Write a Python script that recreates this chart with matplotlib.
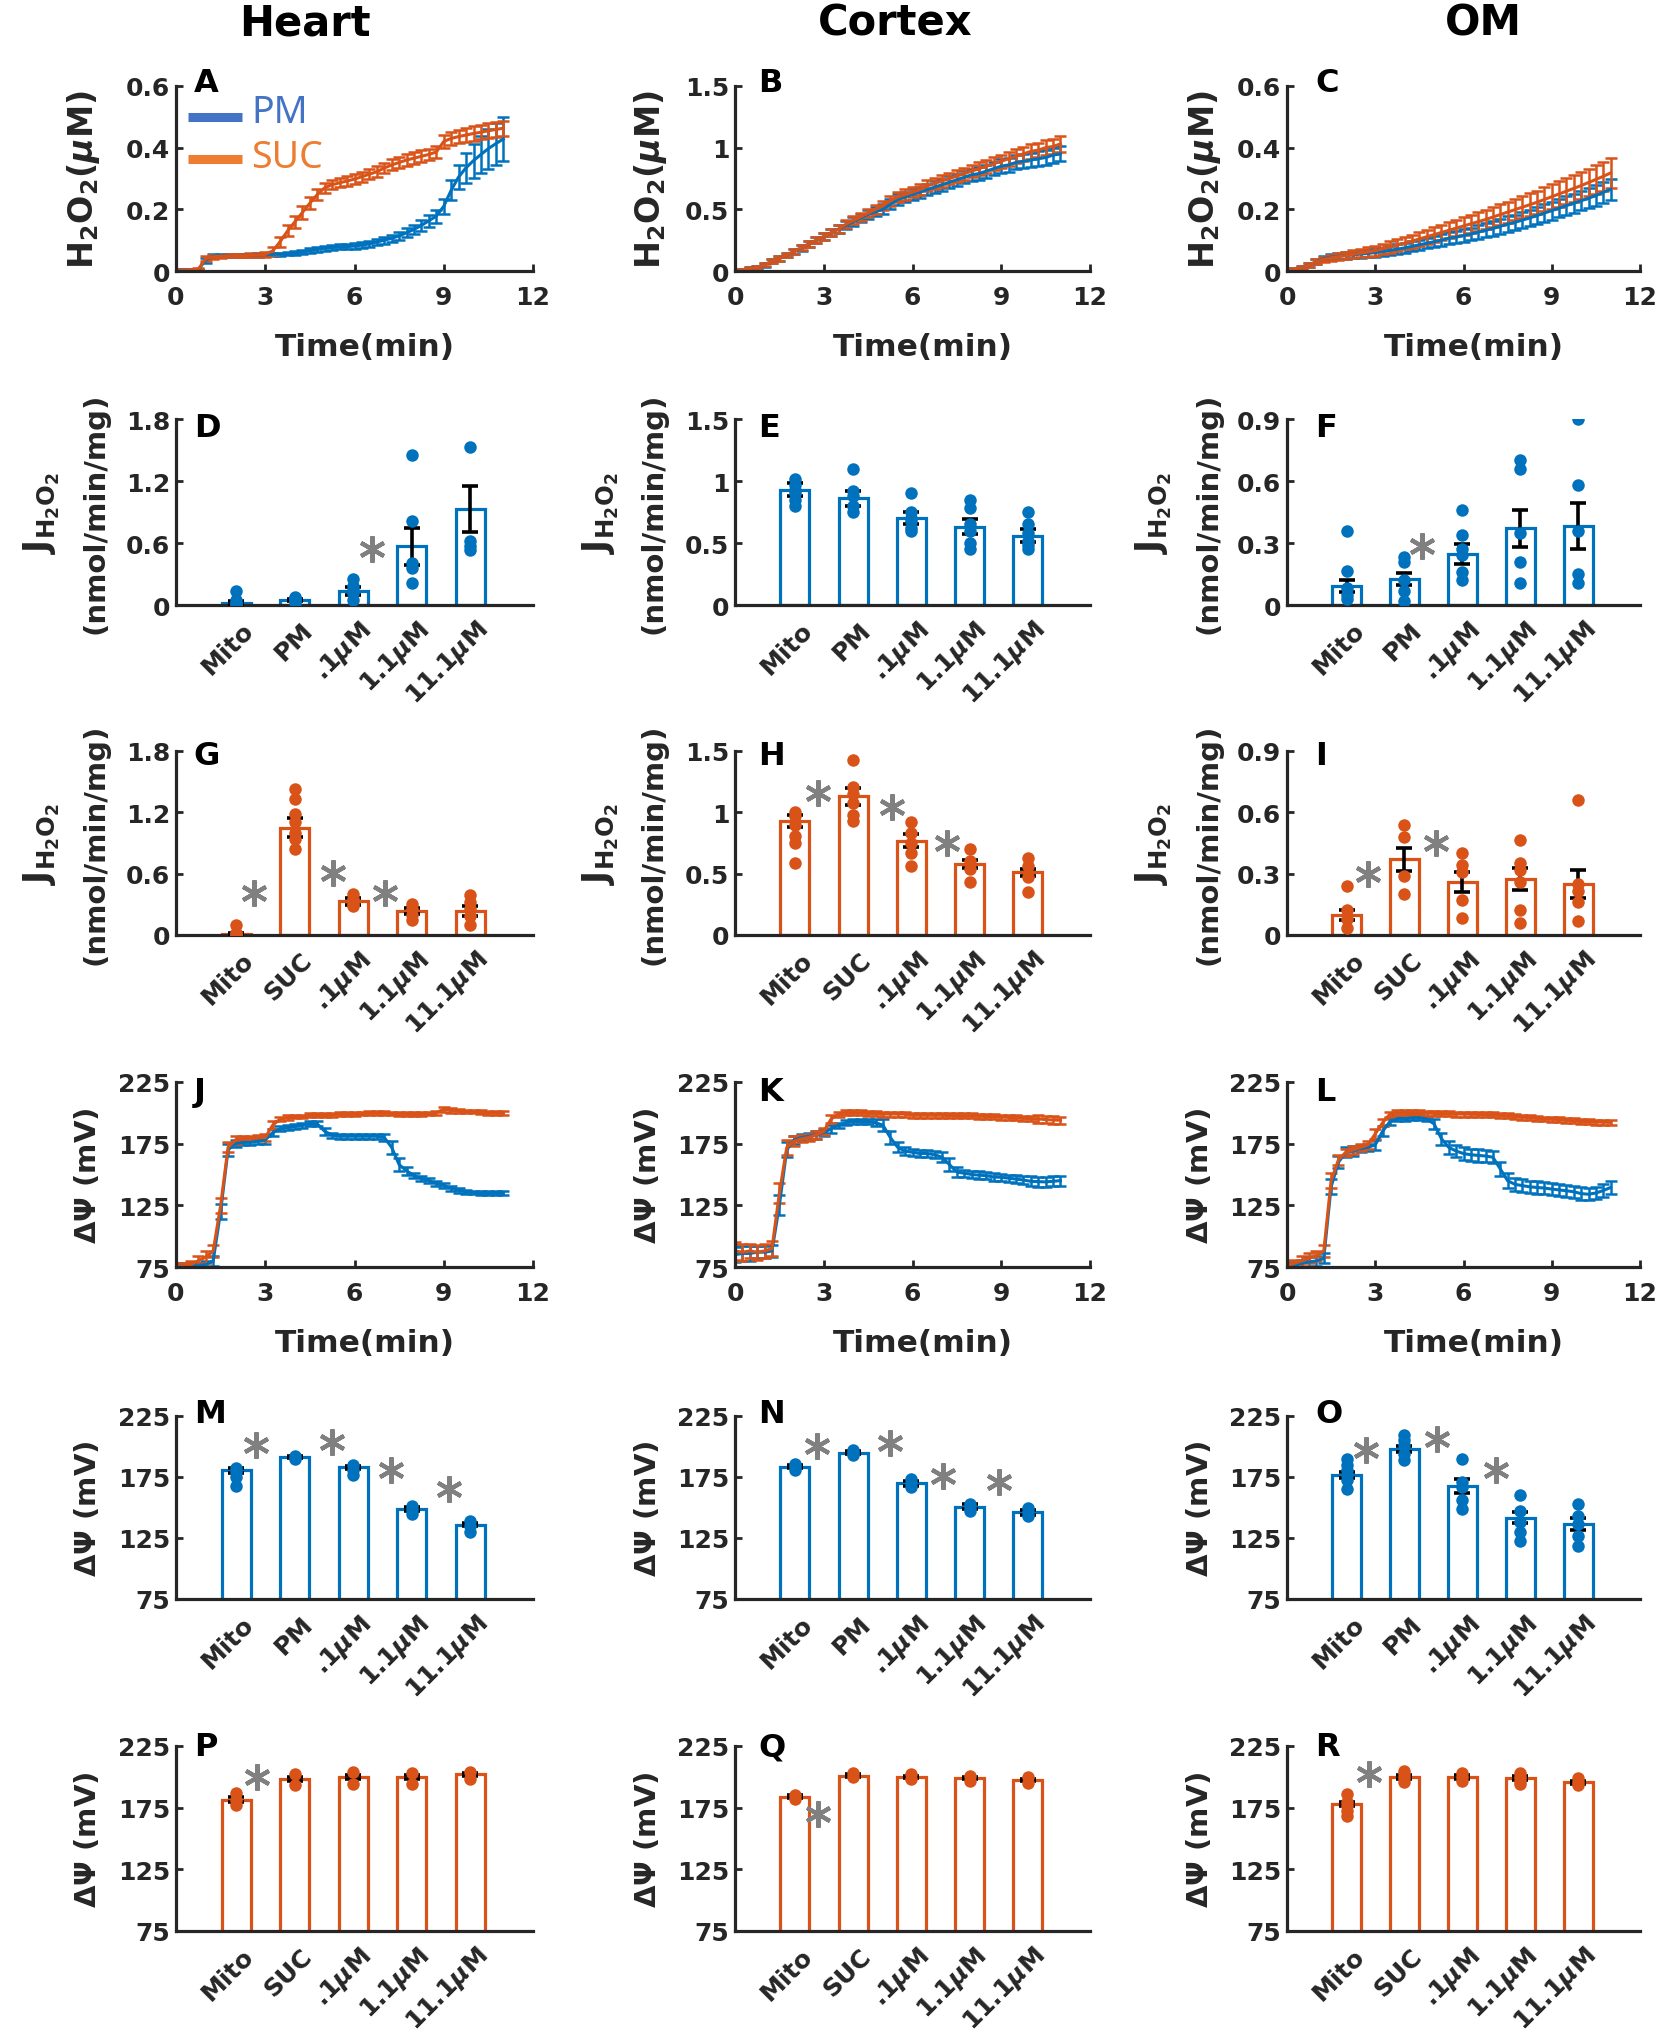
import numpy as np
import matplotlib
matplotlib.use("Agg")
import matplotlib.pyplot as plt
from matplotlib.transforms import ScaledTranslation

# ---------------------------------------------------------------- data
# time courses, one value every 0.25 min from 0 to 11 min (one line per minute)
time_min = np.arange(0, 11.01, 0.25)

heart_h2o2_pm = [0.004, 0.004, 0.004, 0.005,
                 0.035, 0.048, 0.050, 0.050,
                 0.050, 0.051, 0.051, 0.052,
                 0.053, 0.054, 0.055, 0.056,
                 0.058, 0.062, 0.066, 0.070,
                 0.074, 0.076, 0.078, 0.079,
                 0.081, 0.084, 0.088, 0.094,
                 0.100, 0.106, 0.114, 0.124,
                 0.135, 0.148, 0.163, 0.178,
                 0.210, 0.262, 0.305, 0.335,
                 0.358, 0.378, 0.397, 0.413,
                 0.428]
heart_h2o2_pm_err = [0.003, 0.003, 0.003, 0.003,
                     0.008, 0.006, 0.005, 0.005,
                     0.005, 0.005, 0.005, 0.005,
                     0.005, 0.005, 0.005, 0.005,
                     0.006, 0.006, 0.007, 0.007,
                     0.008, 0.008, 0.008, 0.008,
                     0.009, 0.009, 0.010, 0.010,
                     0.011, 0.012, 0.013, 0.014,
                     0.015, 0.017, 0.019, 0.021,
                     0.024, 0.032, 0.040, 0.048,
                     0.055, 0.060, 0.065, 0.068,
                     0.070]
heart_h2o2_suc = [0.003, 0.003, 0.004, 0.006,
                  0.040, 0.046, 0.048, 0.049,
                  0.050, 0.050, 0.051, 0.052,
                  0.054, 0.065, 0.095, 0.130,
                  0.160, 0.190, 0.220, 0.248,
                  0.270, 0.280, 0.286, 0.292,
                  0.298, 0.306, 0.314, 0.322,
                  0.334, 0.344, 0.352, 0.360,
                  0.366, 0.372, 0.378, 0.386,
                  0.420, 0.430, 0.436, 0.441,
                  0.446, 0.450, 0.455, 0.459,
                  0.463]
heart_h2o2_suc_err = [0.003, 0.003, 0.003, 0.004,
                      0.008, 0.006, 0.005, 0.005,
                      0.005, 0.005, 0.006, 0.006,
                      0.008, 0.012, 0.016, 0.018,
                      0.020, 0.020, 0.020, 0.018,
                      0.016, 0.015, 0.015, 0.015,
                      0.016, 0.016, 0.016, 0.017,
                      0.017, 0.018, 0.018, 0.018,
                      0.019, 0.019, 0.019, 0.020,
                      0.020, 0.021, 0.022, 0.022,
                      0.023, 0.023, 0.024, 0.024,
                      0.025]

cortex_h2o2_pm = [0.00, 0.01, 0.02, 0.03,
                  0.05, 0.08, 0.10, 0.13,
                  0.16, 0.19, 0.22, 0.25,
                  0.28, 0.31, 0.34, 0.37,
                  0.40, 0.43, 0.46, 0.48,
                  0.50, 0.54, 0.58, 0.60,
                  0.62, 0.64, 0.66, 0.68,
                  0.70, 0.72, 0.74, 0.76,
                  0.78, 0.79, 0.81, 0.83,
                  0.85, 0.86, 0.88, 0.89,
                  0.90, 0.91, 0.92, 0.94,
                  0.95]
cortex_h2o2_pm_err = [0.005, 0.008, 0.010, 0.012,
                      0.015, 0.018, 0.020, 0.020,
                      0.022, 0.024, 0.025, 0.026,
                      0.028, 0.030, 0.030, 0.032,
                      0.034, 0.035, 0.036, 0.038,
                      0.040, 0.040, 0.042, 0.042,
                      0.044, 0.045, 0.046, 0.047,
                      0.048, 0.049, 0.050, 0.050,
                      0.051, 0.052, 0.053, 0.054,
                      0.055, 0.056, 0.057, 0.058,
                      0.059, 0.060, 0.060, 0.061,
                      0.062]
cortex_h2o2_suc = [0.00, 0.01, 0.02, 0.03,
                   0.05, 0.08, 0.10, 0.13,
                   0.16, 0.19, 0.22, 0.25,
                   0.28, 0.31, 0.34, 0.38,
                   0.41, 0.44, 0.47, 0.50,
                   0.53, 0.57, 0.60, 0.62,
                   0.64, 0.66, 0.69, 0.71,
                   0.73, 0.75, 0.77, 0.79,
                   0.81, 0.83, 0.85, 0.87,
                   0.89, 0.91, 0.93, 0.95,
                   0.97, 0.98, 1.00, 1.01,
                   1.03]
cortex_h2o2_suc_err = [0.005, 0.007, 0.009, 0.011,
                       0.013, 0.016, 0.018, 0.020,
                       0.021, 0.022, 0.023, 0.025,
                       0.026, 0.027, 0.029, 0.030,
                       0.032, 0.033, 0.035, 0.036,
                       0.038, 0.039, 0.040, 0.041,
                       0.042, 0.043, 0.044, 0.045,
                       0.046, 0.047, 0.048, 0.049,
                       0.050, 0.051, 0.052, 0.053,
                       0.054, 0.055, 0.056, 0.057,
                       0.058, 0.059, 0.060, 0.061,
                       0.062]

om_h2o2_pm = [0.000, 0.005, 0.010, 0.020,
              0.030, 0.040, 0.045, 0.048,
              0.050, 0.052, 0.055, 0.057,
              0.060, 0.063, 0.067, 0.071,
              0.075, 0.080, 0.085, 0.090,
              0.095, 0.100, 0.106, 0.110,
              0.115, 0.120, 0.126, 0.132,
              0.138, 0.145, 0.152, 0.158,
              0.165, 0.172, 0.180, 0.188,
              0.196, 0.204, 0.212, 0.220,
              0.228, 0.236, 0.245, 0.255,
              0.265]
om_h2o2_pm_err = [0.003, 0.004, 0.005, 0.006,
                  0.008, 0.009, 0.010, 0.010,
                  0.011, 0.011, 0.012, 0.012,
                  0.013, 0.013, 0.014, 0.015,
                  0.015, 0.016, 0.017, 0.017,
                  0.018, 0.019, 0.019, 0.020,
                  0.021, 0.021, 0.022, 0.023,
                  0.023, 0.024, 0.025, 0.025,
                  0.026, 0.027, 0.027, 0.028,
                  0.029, 0.029, 0.030, 0.031,
                  0.031, 0.032, 0.033, 0.033,
                  0.034]
om_h2o2_suc = [0.000, 0.005, 0.010, 0.020,
               0.030, 0.038, 0.043, 0.047,
               0.050, 0.054, 0.058, 0.062,
               0.066, 0.072, 0.078, 0.084,
               0.090, 0.097, 0.104, 0.111,
               0.118, 0.125, 0.132, 0.139,
               0.146, 0.153, 0.160, 0.167,
               0.175, 0.183, 0.191, 0.199,
               0.207, 0.215, 0.223, 0.232,
               0.241, 0.250, 0.259, 0.268,
               0.277, 0.287, 0.297, 0.307,
               0.318]
om_h2o2_suc_err = [0.003, 0.004, 0.005, 0.006,
                   0.008, 0.009, 0.010, 0.011,
                   0.012, 0.013, 0.014, 0.015,
                   0.016, 0.017, 0.018, 0.019,
                   0.020, 0.021, 0.022, 0.023,
                   0.024, 0.025, 0.026, 0.027,
                   0.028, 0.029, 0.030, 0.031,
                   0.032, 0.033, 0.034, 0.035,
                   0.036, 0.037, 0.038, 0.039,
                   0.040, 0.041, 0.042, 0.043,
                   0.044, 0.045, 0.046, 0.047,
                   0.048]

heart_dpsi_pm = [76, 76, 76, 76,
                 77, 80, 120, 170,
                 175, 176, 176, 177,
                 178, 184, 187, 188,
                 189, 190, 191, 191,
                 185, 182, 181, 181,
                 181, 181, 181, 181,
                 180, 172, 158, 153,
                 149, 147, 145, 143,
                 141, 139, 137, 136,
                 135.5, 135, 135, 135,
                 135]
heart_dpsi_pm_err = [2, 2, 2, 2,
                     3, 4, 6, 5,
                     3, 2, 2, 2,
                     3, 3, 2, 2,
                     2, 2, 2, 2,
                     3, 2, 2, 2,
                     2, 2, 2, 2,
                     3, 5, 5, 3,
                     2, 2, 2, 2,
                     2, 2, 2, 1.5,
                     1.5, 1.5, 1.5, 1.5,
                     1.5]
heart_dpsi_suc = [76, 76, 77, 80,
                  83, 88, 125, 172,
                  178, 179, 179, 180,
                  180, 190, 195, 196,
                  197, 197, 198, 198,
                  198, 198.5, 199, 199,
                  199, 199.5, 200, 200,
                  200, 199.5, 199, 199,
                  199, 199, 199.5, 200,
                  203, 202, 201.5, 201,
                  201, 200.5, 200, 200,
                  200]
heart_dpsi_suc_err = [2, 2, 3, 4,
                      5, 5, 6, 4,
                      3, 2, 2, 2,
                      3, 3, 2, 2,
                      1.5, 1.5, 1.5, 1.5,
                      1.5, 1.5, 1.5, 1.5,
                      1.5, 1.5, 1.5, 1.5,
                      1.5, 1.5, 1.5, 1.5,
                      1.5, 1.5, 1.5, 1.5,
                      2, 2, 1.5, 1.5,
                      1.5, 1.5, 1.5, 1.5,
                      1.5]

cortex_dpsi_pm = [85, 86, 86, 87,
                  87, 88, 125, 170,
                  178, 180, 181, 182,
                  184, 187, 190, 192,
                  193, 193, 193, 192,
                  190, 180, 172, 169,
                  168, 167, 167, 166,
                  164, 158, 152, 151,
                  150, 149.5, 149, 148,
                  147.7, 147, 146.3, 145.5,
                  144.5, 144.2, 144, 144.5,
                  145]
cortex_dpsi_pm_err = [6, 6, 6, 5,
                      5, 5, 8, 6,
                      3, 3, 3, 3,
                      3, 3, 2, 2,
                      2, 2, 2, 3,
                      5, 5, 4, 3,
                      3, 3, 3, 3,
                      4, 5, 4, 3,
                      3, 3, 3, 3,
                      3, 3, 3, 3,
                      4, 4, 4, 4,
                      4]
cortex_dpsi_suc = [88, 87, 88, 87,
                   88, 90, 135, 172,
                   177, 179, 180, 182,
                   185, 195, 199, 200,
                   200, 200, 199.5, 199.5,
                   199, 199, 199, 199,
                   198, 198, 198, 198,
                   198, 197.8, 197.6, 197.5,
                   197.5, 197.2, 197, 196.8,
                   196.5, 196.3, 196, 195.6,
                   195.2, 195, 194.6, 194.2,
                   194]
cortex_dpsi_suc_err = [7, 7, 6, 6,
                       6, 6, 8, 6,
                       4, 3, 3, 3,
                       3, 3, 2, 2,
                       2, 2, 2, 2,
                       2, 2, 2, 2,
                       2, 2, 2, 2,
                       2, 2, 2, 2,
                       2, 2, 2, 2,
                       2, 2, 2, 2,
                       2, 3, 3, 3,
                       3]

om_dpsi_pm = [75, 76, 78, 79,
              80, 82, 140, 160,
              168, 169, 171, 172,
              174, 185, 193, 195,
              195, 196, 196, 195,
              191, 179, 172, 169,
              167, 166, 165.5, 165,
              164, 154.5, 145, 142,
              141, 140, 139.5, 139,
              138.2, 137.5, 136.8, 136,
              134.5, 134, 135, 137,
              139.5]
om_dpsi_pm_err = [2, 3, 3, 4,
                  4, 4, 6, 5,
                  4, 4, 3, 3,
                  4, 4, 3, 2,
                  2, 2, 2, 2,
                  4, 5, 5, 5,
                  5, 5, 5, 5,
                  5, 6, 6, 5,
                  5, 5, 5, 5,
                  5, 5, 5, 5,
                  5, 5, 5, 5,
                  5]
om_dpsi_suc = [76, 78, 80, 82,
               84, 88, 145, 162,
               168, 170, 172, 174,
               183, 192, 199, 200,
               200, 200, 200, 199.8,
               199.5, 199.3, 199.2, 199,
               199, 198.8, 198.7, 198.5,
               198.3, 198, 197.5, 197,
               196.5, 196, 195.5, 195,
               194.8, 194.5, 194, 193.5,
               193, 192.8, 192.5, 192.4,
               192.2]
om_dpsi_suc_err = [2, 3, 4, 4,
                   4, 5, 6, 4,
                   3, 3, 3, 3,
                   4, 3, 2, 2,
                   2, 2, 2, 2,
                   2, 2, 2, 2,
                   2, 2, 2, 2,
                   2, 2, 2, 2,
                   2, 2, 2, 2,
                   2, 2, 2, 2,
                   2, 2, 2, 2,
                   2]

# bar charts: five conditions each
labels_pm = ['Mito', 'PM', '.1$\\mu$M', '1.1$\\mu$M', '11.1$\\mu$M']
labels_suc = ['Mito', 'SUC', '.1$\\mu$M', '1.1$\\mu$M', '11.1$\\mu$M']

# J_H2O2, PM (D, E, F)
heart_j_pm_mean = [0.02, 0.05, 0.135, 0.57, 0.93]
heart_j_pm_sem = [0.02, 0.01, 0.035, 0.18, 0.22]
heart_j_pm_pts = [[0.14, 0.05, 0.02, 0.0, 0.01], [0.08, 0.07, 0.06, 0.04, 0.02],
                  [0.25, 0.18, 0.15, 0.12, 0.05], [1.45, 0.81, 0.41, 0.36, 0.21],
                  [1.53, 0.62, 0.57, 0.53]]
heart_j_pm_stars = [(3.32, 0.54)]

cortex_j_pm_mean = [0.93, 0.86, 0.70, 0.63, 0.56]
cortex_j_pm_sem = [0.05, 0.06, 0.05, 0.06, 0.05]
cortex_j_pm_pts = [[1.02, 0.97, 0.93, 0.90, 0.85, 0.80], [1.10, 0.92, 0.88, 0.80, 0.75],
                   [0.90, 0.75, 0.70, 0.68, 0.62, 0.60], [0.85, 0.78, 0.65, 0.60, 0.50, 0.45],
                   [0.75, 0.65, 0.58, 0.52, 0.48, 0.45]]
cortex_j_pm_stars = []

om_j_pm_mean = [0.093, 0.125, 0.247, 0.372, 0.382]
om_j_pm_sem = [0.03, 0.03, 0.048, 0.09, 0.11]
om_j_pm_pts = [[0.36, 0.165, 0.08, 0.05, 0.03], [0.23, 0.21, 0.12, 0.07, 0.02],
               [0.46, 0.34, 0.27, 0.24, 0.16, 0.12], [0.70, 0.66, 0.35, 0.21, 0.105],
               [0.90, 0.58, 0.36, 0.15, 0.105]]
om_j_pm_stars = [(2.30, 0.285)]

# J_H2O2, SUC (G, H, I)
heart_j_suc_mean = [0.01, 1.05, 0.33, 0.235, 0.235]
heart_j_suc_sem = [0.01, 0.09, 0.035, 0.03, 0.05]
heart_j_suc_pts = [[0.10, 0.02, 0.0, 0.01], [1.43, 1.33, 1.18, 1.11, 1.00, 0.94, 0.84],
                   [0.40, 0.35, 0.30, 0.28], [0.30, 0.25, 0.20, 0.15],
                   [0.39, 0.32, 0.25, 0.19, 0.10]]
heart_j_suc_stars = [(1.31, 0.41), (2.65, 0.61), (3.54, 0.41)]

cortex_j_suc_mean = [0.93, 1.13, 0.77, 0.58, 0.51]
cortex_j_suc_sem = [0.05, 0.07, 0.05, 0.03, 0.03]
cortex_j_suc_pts = [[1.00, 0.97, 0.90, 0.81, 0.75, 0.59], [1.43, 1.21, 1.15, 1.08, 0.98, 0.93],
                    [0.92, 0.83, 0.75, 0.67, 0.56], [0.70, 0.60, 0.54, 0.43],
                    [0.63, 0.56, 0.47, 0.35]]
cortex_j_suc_stars = [(1.39, 1.155), (2.67, 1.04), (3.61, 0.75)]

om_j_suc_mean = [0.098, 0.37, 0.26, 0.275, 0.25]
om_j_suc_sem = [0.025, 0.055, 0.05, 0.055, 0.07]
om_j_suc_pts = [[0.24, 0.12, 0.077, 0.036], [0.54, 0.48, 0.29, 0.20],
                [0.40, 0.34, 0.31, 0.17, 0.085], [0.465, 0.35, 0.32, 0.26, 0.12, 0.06],
                [0.66, 0.25, 0.215, 0.16, 0.07]]
om_j_suc_stars = [(1.37, 0.30), (2.54, 0.45)]

# membrane potential, PM (M, N, O)
heart_psi_pm_mean = [180.4, 191.3, 182.9, 148.9, 136.0]
heart_psi_pm_sem = [2.0, 1.0, 1.5, 1.5, 1.5]
heart_psi_pm_pts = [[182, 179, 175, 168], [192, 190], [184.5, 181, 177],
                    [151.6, 148, 145], [139, 135, 130]]
heart_psi_pm_stars = [(1.34, 201.5), (2.64, 203.7), (3.64, 180.4), (4.64, 165.3)]

cortex_psi_pm_mean = [183.5, 195.0, 170.0, 150.5, 146.0]
cortex_psi_pm_sem = [1.5, 1.0, 2.0, 2.0, 2.0]
cortex_psi_pm_pts = [[186, 183, 181], [197, 195, 193], [173, 170, 167],
                     [153, 150, 147], [150, 146, 143]]
cortex_psi_pm_stars = [(1.38, 200.4), (2.64, 202.9), (3.55, 175.8), (4.5, 171.0)]

om_psi_pm_mean = [176.3, 198.2, 167.5, 141.5, 136.6]
om_psi_pm_sem = [2.5, 2.5, 5.5, 4.5, 5.0]
om_psi_pm_pts = [[189.4, 184.5, 180.4, 176.3, 172.2, 165.3],
                 [209.7, 205.0, 200.9, 194.0, 188.6],
                 [189.4, 170.8, 166.7, 155.8, 148.9],
                 [159.9, 147.5, 138.0, 129.7, 122.9],
                 [153.0, 143.4, 136.6, 127.0, 118.8]]
om_psi_pm_stars = [(1.34, 196.8), (2.56, 206.4), (3.58, 180.4)]

# membrane potential, SUC (P, Q, R)
heart_psi_suc_mean = [181.5, 198.0, 199.9, 199.6, 202.0]
heart_psi_suc_sem = [2.0, 1.5, 1.5, 1.5, 1.0]
heart_psi_suc_pts = [[187, 181, 177], [202.6, 193.1], [203.9, 194.5],
                     [203.4, 194.5], [203.9, 198.5]]
heart_psi_suc_stars = [(1.36, 199.9)]

cortex_psi_suc_mean = [184.0, 201.0, 200.0, 199.0, 197.5]
cortex_psi_suc_sem = [1.0, 1.0, 1.0, 1.0, 1.0]
cortex_psi_suc_pts = [[185, 182], [203, 200], [202, 198], [201, 197], [200, 195]]
cortex_psi_suc_stars = [(1.39, 170.0)]

om_psi_suc_mean = [178.0, 200.0, 200.0, 199.0, 195.5]
om_psi_suc_sem = [2.0, 1.5, 1.5, 1.5, 1.5]
om_psi_suc_pts = [[186, 180, 176, 172, 168], [205, 202, 199, 196], [203, 200, 197],
                  [203, 200, 197, 194], [199, 196, 193]]
om_psi_suc_stars = [(1.38, 202.0)]

# ---------------------------------------------------------------- style
BLUE = '#0072BD'
ORANGE = '#D95319'
INK = '#262626'
STAR = '#808080'
LEGEND_FONT = ['Noto Sans', 'DejaVu Sans']

plt.rcParams['font.family'] = ['DejaVu Sans']
plt.rcParams['font.weight'] = 'bold'
plt.rcParams['axes.labelweight'] = 'bold'
plt.rcParams['mathtext.fontset'] = 'custom'
plt.rcParams['mathtext.rm'] = 'DejaVu Sans:bold'
plt.rcParams['mathtext.it'] = 'DejaVu Sans:italic:bold'
plt.rcParams['mathtext.bf'] = 'DejaVu Sans:bold'

W, H = 1668, 2040
fig = plt.figure(figsize=(W / 100, H / 100), dpi=100)

col_left = [176, 735, 1287]
col_width = [357, 355, 353]
row_top = [87, 420, 752, 1083, 1417, 1747]
row_height = [185, 186, 184, 185, 183, 185]
letter_x = [0.05, 0.065, 0.08]
letter_y = [1.10, 1.04, 1.06, 1.03, 1.10, 1.08]


def make_axes(r, c):
    ax = fig.add_axes([col_left[c] / W, 1 - (row_top[r] + row_height[r]) / H,
                       col_width[c] / W, row_height[r] / H])
    for side in ('top', 'right'):
        ax.spines[side].set_visible(False)
    for side in ('left', 'bottom'):
        ax.spines[side].set_linewidth(2.3)
        ax.spines[side].set_color(INK)
    ax.tick_params(direction='in', length=5, width=2.0, color=INK,
                   labelcolor=INK, labelsize=18)
    ax.tick_params(axis='y', pad=4)
    return ax


def panel_letter(ax, r, c, letter):
    ax.text(letter_x[c], letter_y[r], letter, transform=ax.transAxes,
            fontsize=23, fontweight='bold', color='black', ha='left', va='top')


def time_panel(ax, pm, pm_err, suc, suc_err, ylim, yticks, yticklabels,
               ylabel, ylab_x, ylab_size):
    for y, e, col in ((pm, pm_err, BLUE), (suc, suc_err, ORANGE)):
        ax.errorbar(time_min, y, yerr=e, color=col, lw=2.2, elinewidth=1.8,
                    capsize=4.5, capthick=1.8)
    ax.set_xlim(0, 12)
    ax.set_xticks([0, 3, 6, 9, 12])
    ax.set_xticklabels(['0', '3', '6', '9', '12'])
    ax.tick_params(axis='x', pad=10)
    ax.set_ylim(*ylim)
    ax.set_yticks(yticks)
    ax.set_yticklabels(yticklabels)
    ax.set_xlabel('Time(min)', fontsize=22.5, color=INK)
    ax.xaxis.set_label_coords(0.53, -0.33)
    ax.set_ylabel(ylabel, fontsize=ylab_size, color=INK)
    ax.yaxis.set_label_coords(ylab_x, 0.5)


def bar_panel(ax, mean, sem, pts, labels, col, stars, ylim, yticks, yticklabels,
              ylabel, ylab_x):
    x = np.arange(1, 6)
    ax.bar(x, mean, width=0.5, facecolor='white', edgecolor=col, linewidth=2.3, zorder=2)
    ax.errorbar(x, mean, yerr=sem, fmt='none', ecolor='black', elinewidth=2.6,
                capsize=6, capthick=2.6, zorder=3)
    for i, p in enumerate(pts):
        ax.plot([x[i]] * len(p), p, 'o', color=col, ms=9, mec='none', zorder=4)
    if stars:
        sx, sy = zip(*stars)
        ax.plot(sx, sy, linestyle='none', marker=(6, 2, 0), ms=19, mew=3,
                color=STAR, zorder=5, clip_on=False)
    ax.set_xlim(-0.03, 6.07)
    ax.set_ylim(*ylim)
    ax.set_yticks(yticks)
    ax.set_yticklabels(yticklabels)
    ax.set_xticks(x)
    ax.set_xticklabels(labels, rotation=45, ha='right', va='center',
                       rotation_mode='anchor', fontsize=18)
    ax.tick_params(axis='x', pad=15, length=4)
    shift = ScaledTranslation(0.14, 0, fig.dpi_scale_trans)
    for lab in ax.get_xticklabels():
        lab.set_transform(lab.get_transform() + shift)
    ax.set_ylabel(ylabel, fontsize=21, color=INK)
    ax.yaxis.set_label_coords(ylab_x, 0.5)


def j_symbol(ax):
    # first line of the J_H2O2 label, drawn larger than the units line
    ax.text(-0.32, 0.5, '$\\mathrm{J}_{\\mathrm{H_2O_2}}$', transform=ax.transAxes,
            rotation=90, rotation_mode='anchor', ha='center', va='bottom',
            fontsize=25, color=INK)


h2o2_label = 'H$_2$O$_2$($\\mu$M)'
j_units = '(nmol/min/mg)'
psi_label = '$\\Delta\\Psi$ (mV)'
psi_ticks = [75, 125, 175, 225]
psi_ticklabels = ['75', '125', '175', '225']

# ---------------------------------------------------------------- row 1: H2O2 time courses
time_h2o2 = [
    (heart_h2o2_pm, heart_h2o2_pm_err, heart_h2o2_suc, heart_h2o2_suc_err,
     (0, 0.6), [0, 0.2, 0.4, 0.6], ['0', '0.2', '0.4', '0.6'], -0.207),
    (cortex_h2o2_pm, cortex_h2o2_pm_err, cortex_h2o2_suc, cortex_h2o2_suc_err,
     (0, 1.5), [0, 0.5, 1, 1.5], ['0', '0.5', '1', '1.5'], -0.185),
    (om_h2o2_pm, om_h2o2_pm_err, om_h2o2_suc, om_h2o2_suc_err,
     (0, 0.6), [0, 0.2, 0.4, 0.6], ['0', '0.2', '0.4', '0.6'], -0.18),
]
for c, (pm, pme, suc, suce, yl, yt, ytl, lx) in enumerate(time_h2o2):
    ax = make_axes(0, c)
    time_panel(ax, pm, pme, suc, suce, yl, yt, ytl, h2o2_label, lx, 24)
    panel_letter(ax, 0, c, 'ABC'[c])
    if c == 0:
        ax.plot([0.034, 0.185], [0.832, 0.832], transform=ax.transAxes,
                color='#4472C4', lw=6.5, solid_capstyle='butt', clip_on=False)
        ax.plot([0.034, 0.185], [0.605, 0.605], transform=ax.transAxes,
                color='#ED7D31', lw=6.5, solid_capstyle='butt', clip_on=False)
        ax.text(0.21, 0.86, 'PM', transform=ax.transAxes, fontsize=27,
                family=LEGEND_FONT, fontweight='normal',
                color='#4472C4', ha='left', va='center')
        ax.text(0.21, 0.615, 'SUC', transform=ax.transAxes, fontsize=27,
                family=LEGEND_FONT, fontweight='normal',
                color='#ED7D31', ha='left', va='center')

# ---------------------------------------------------------------- rows 2-3: J_H2O2 bars
j_ticks = [
    ((0, 1.8), [0, 0.6, 1.2, 1.8], ['0', '0.6', '1.2', '1.8']),
    ((0, 1.5), [0, 0.5, 1, 1.5], ['0', '0.5', '1', '1.5']),
    ((0, 0.9), [0, 0.3, 0.6, 0.9], ['0', '0.3', '0.6', '0.9']),
]
j_pm = [(heart_j_pm_mean, heart_j_pm_sem, heart_j_pm_pts, heart_j_pm_stars),
        (cortex_j_pm_mean, cortex_j_pm_sem, cortex_j_pm_pts, cortex_j_pm_stars),
        (om_j_pm_mean, om_j_pm_sem, om_j_pm_pts, om_j_pm_stars)]
j_suc = [(heart_j_suc_mean, heart_j_suc_sem, heart_j_suc_pts, heart_j_suc_stars),
         (cortex_j_suc_mean, cortex_j_suc_sem, cortex_j_suc_pts, cortex_j_suc_stars),
         (om_j_suc_mean, om_j_suc_sem, om_j_suc_pts, om_j_suc_stars)]
j_lab_x = [-0.185, -0.19, -0.184]

for c in range(3):
    yl, yt, ytl = j_ticks[c]
    ax = make_axes(1, c)
    m, s, p, st = j_pm[c]
    bar_panel(ax, m, s, p, labels_pm, BLUE, st, yl, yt, ytl, j_units, j_lab_x[c])
    j_symbol(ax)
    panel_letter(ax, 1, c, 'DEF'[c])
    ax = make_axes(2, c)
    m, s, p, st = j_suc[c]
    bar_panel(ax, m, s, p, labels_suc, ORANGE, st, yl, yt, ytl, j_units, j_lab_x[c])
    j_symbol(ax)
    panel_letter(ax, 2, c, 'GHI'[c])

# ---------------------------------------------------------------- row 4: membrane potential time courses
time_psi = [
    (heart_dpsi_pm, heart_dpsi_pm_err, heart_dpsi_suc, heart_dpsi_suc_err),
    (cortex_dpsi_pm, cortex_dpsi_pm_err, cortex_dpsi_suc, cortex_dpsi_suc_err),
    (om_dpsi_pm, om_dpsi_pm_err, om_dpsi_suc, om_dpsi_suc_err),
]
for c, (pm, pme, suc, suce) in enumerate(time_psi):
    ax = make_axes(3, c)
    time_panel(ax, pm, pme, suc, suce, (75, 225), psi_ticks, psi_ticklabels,
               psi_label, -0.207, 21)
    panel_letter(ax, 3, c, 'JKL'[c])

# ---------------------------------------------------------------- rows 5-6: membrane potential bars
psi_pm = [(heart_psi_pm_mean, heart_psi_pm_sem, heart_psi_pm_pts, heart_psi_pm_stars),
          (cortex_psi_pm_mean, cortex_psi_pm_sem, cortex_psi_pm_pts, cortex_psi_pm_stars),
          (om_psi_pm_mean, om_psi_pm_sem, om_psi_pm_pts, om_psi_pm_stars)]
psi_suc = [(heart_psi_suc_mean, heart_psi_suc_sem, heart_psi_suc_pts, heart_psi_suc_stars),
           (cortex_psi_suc_mean, cortex_psi_suc_sem, cortex_psi_suc_pts, cortex_psi_suc_stars),
           (om_psi_suc_mean, om_psi_suc_sem, om_psi_suc_pts, om_psi_suc_stars)]
for c in range(3):
    ax = make_axes(4, c)
    m, s, p, st = psi_pm[c]
    bar_panel(ax, m, s, p, labels_pm, BLUE, st, (75, 225), psi_ticks, psi_ticklabels,
              psi_label, -0.207)
    panel_letter(ax, 4, c, 'MNO'[c])
    ax = make_axes(5, c)
    m, s, p, st = psi_suc[c]
    bar_panel(ax, m, s, p, labels_suc, ORANGE, st, (75, 225), psi_ticks, psi_ticklabels,
              psi_label, -0.207)
    panel_letter(ax, 5, c, 'PQR'[c])

# ---------------------------------------------------------------- column titles
for x, name in ((305, 'Heart'), (895, 'Cortex'), (1483, 'OM')):
    fig.text(x / W, 1 - 23 / H, name, fontsize=30, fontweight='bold',
             color='black', ha='center', va='center')

fig.savefig('out.png', dpi=100, facecolor='white')
